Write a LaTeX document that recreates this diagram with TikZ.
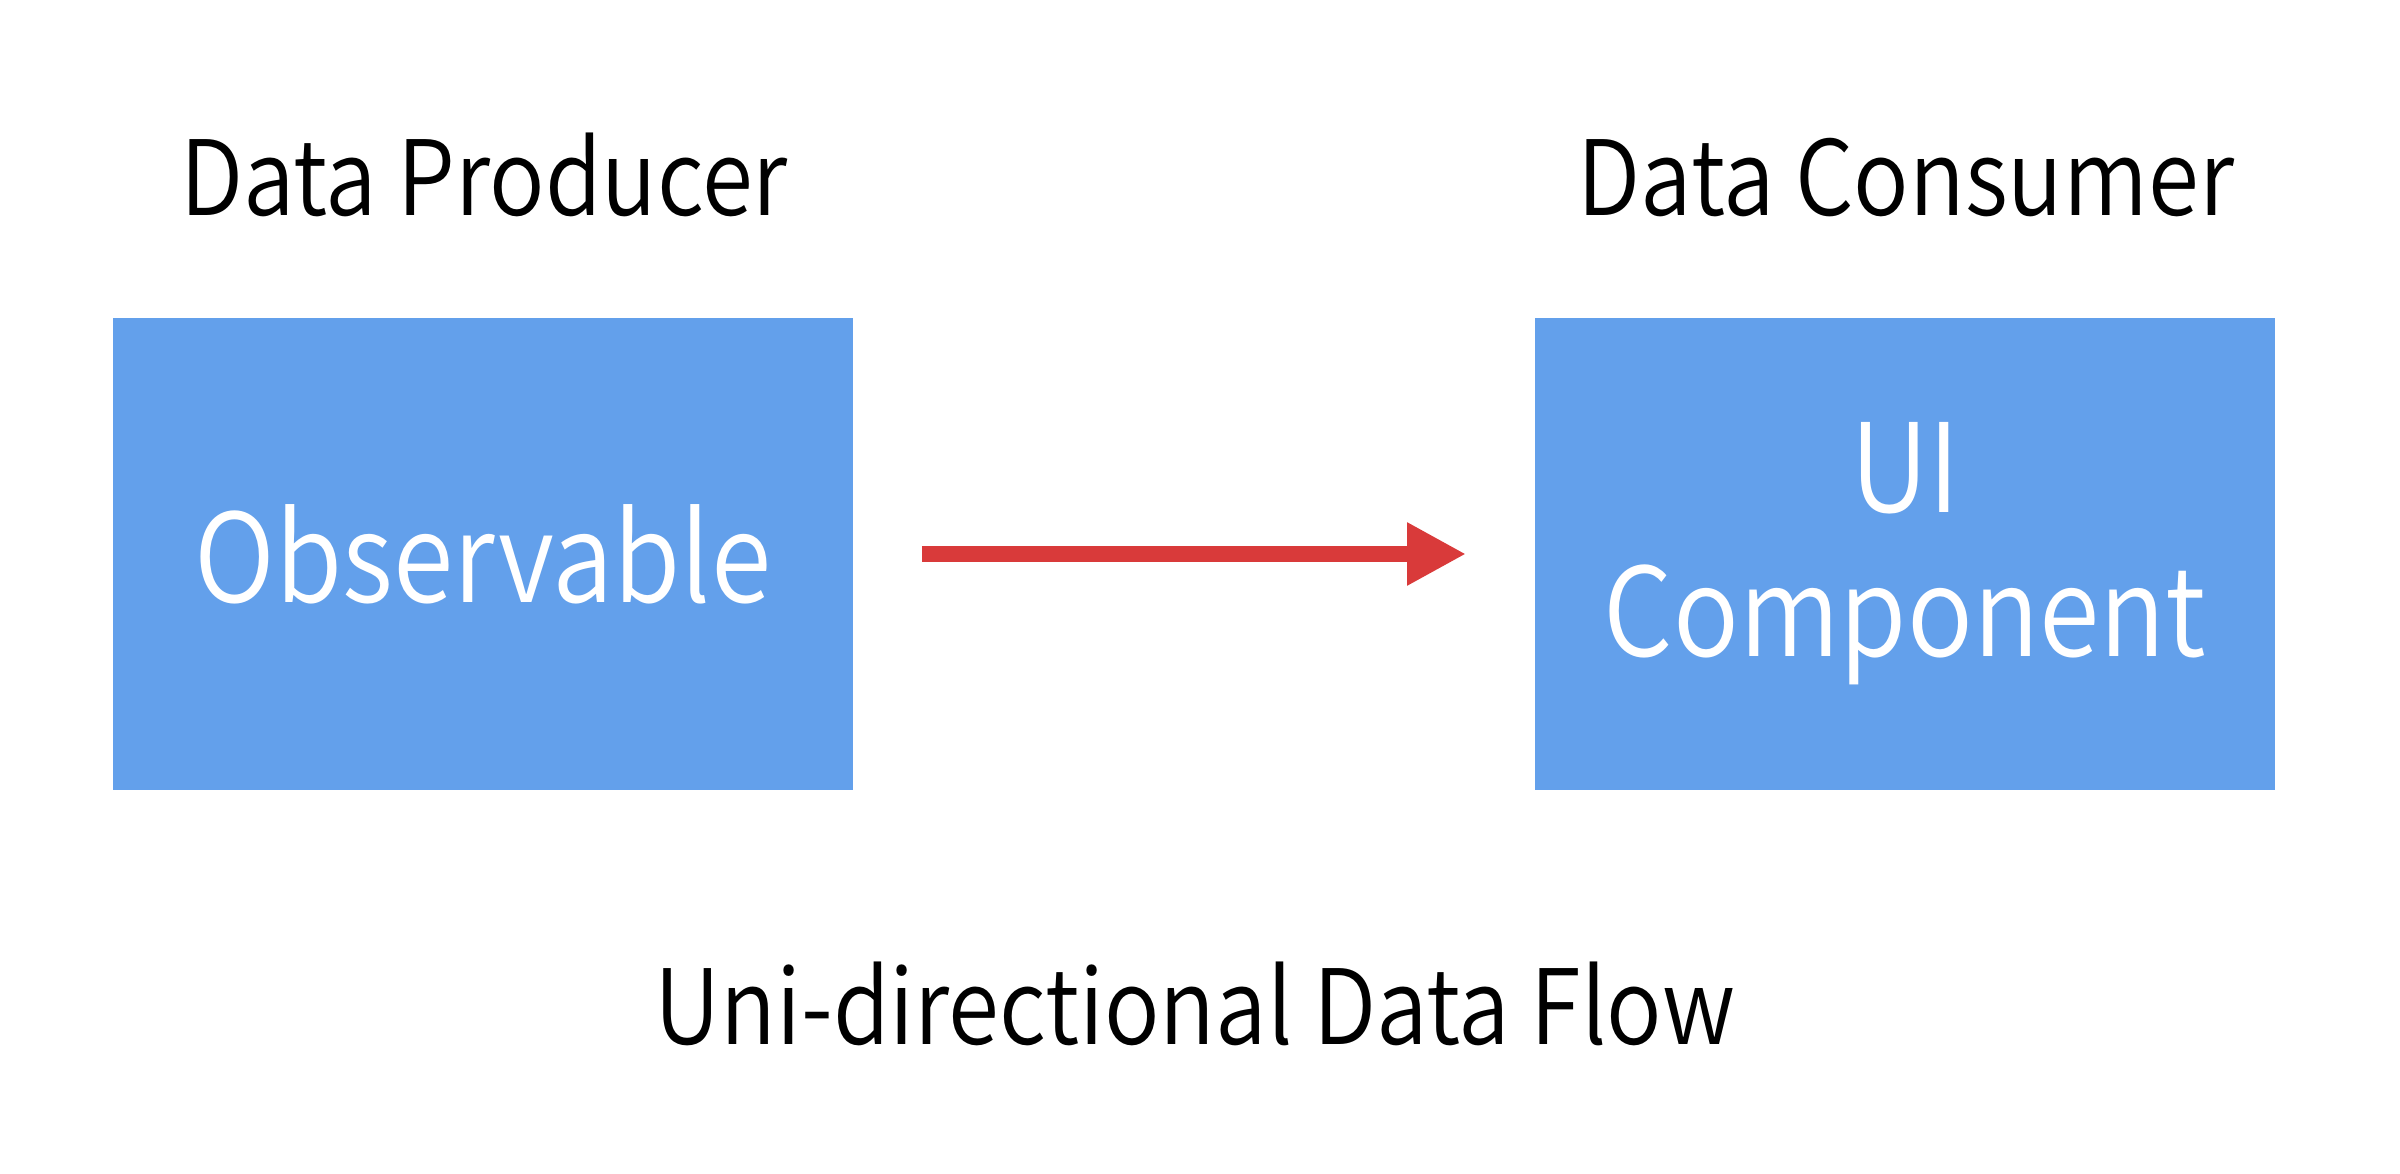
\documentclass[tikz,border=0pt]{standalone}
\usepackage{fontspec}
\setmainfont{Noto Sans CJK KR}[UprightFont={* DemiLight},FakeStretch=0.89]
\definecolor{boxblue}{RGB}{99,160,235}
\definecolor{arrred}{RGB}{217,58,58}
\usetikzlibrary{arrows.meta}
\begin{document}
\begin{tikzpicture}[x=0.01cm,y=-0.01cm,
  block/.style={fill=boxblue,draw=none,minimum width=7.4cm,minimum height=4.72cm,inner sep=0pt,text=white,font=\fontsize{35}{41}\selectfont,align=center},
  head/.style={font=\fontsize{29.5}{34}\selectfont,text=black,inner sep=0pt,anchor=base},
  flow/.style={draw=arrred,line width=0.16cm,-{Triangle[length=0.59cm,width=0.59cm]}}]
\useasboundingbox (0,0) rectangle (2400,1174);
\node[block] (prod) at (483,554) {Observable};
\node[block] (cons) at (1905,554) {UI\\Component};
\node[head] (hp) at (484,216) {Data Producer};
\node[head] (hc) at (1906,216) {Data Consumer};
\node[head] (ttl) at (1195,1045) {Uni-directional Data Flow};
\draw[flow] ([xshift=0.68cm]prod.east) -- ([xshift=-0.68cm]cons.west);
\end{tikzpicture}
\end{document}
